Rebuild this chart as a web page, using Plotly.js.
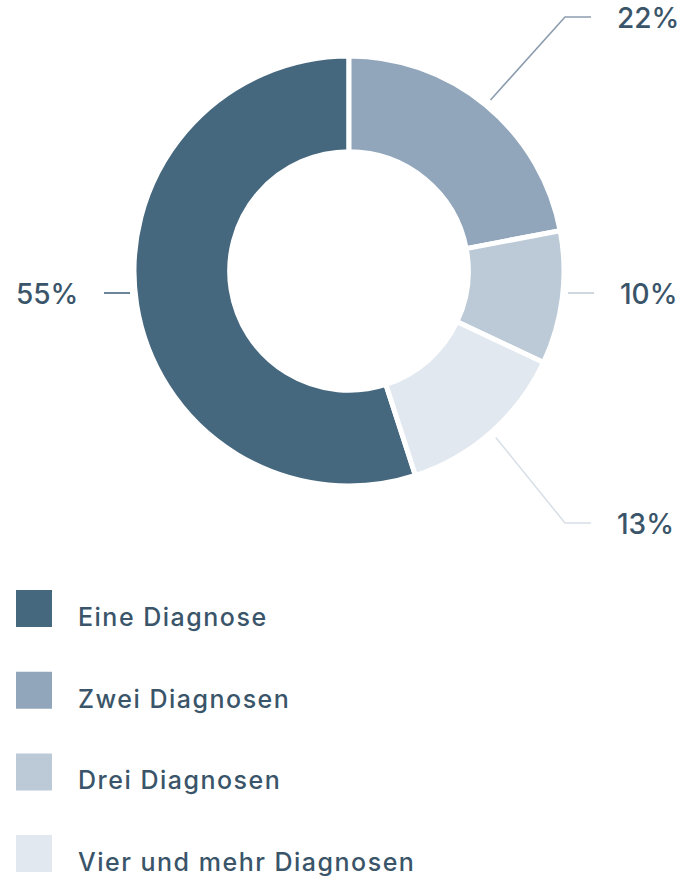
<!DOCTYPE html>
<html>
<head>
<meta charset="utf-8">
<script src="https://cdn.plot.ly/plotly-3.0.1.min.js"></script>
<style>html,body{margin:0;padding:0;background:#fff;}#chart{width:679px;height:876px;}
text.annotation-text[style*="font-size: 25px"]{letter-spacing:1.5px;}</style>
</head>
<body>
<div id="chart"></div>
<script>
// ---- data ----
const categories = ['Eine Diagnose', 'Zwei Diagnosen', 'Drei Diagnosen', 'Vier und mehr Diagnosen'];
const values = [55, 22, 10, 13];
const percentLabels = ['55%', '22%', '10%', '13%'];

// ---- style ----
const sliceColors = ['#46687f', '#91a6bb', '#bccad7', '#e2e8f0'];
const leaderColors = ['#46687f', '#8d9dae', '#c3ced9', '#d9e0e8'];
const textColor = '#3a5569';
const fontFamily = 'Inter, Lato, "Open Sans", sans-serif';

const W = 679, H = 876;
const cx = 349, cy = 271, R = 215;
const px = x => x / W;
const py = y => 1 - y / H;

const total = values.reduce((a, b) => a + b, 0);
const rotation = 360 * (total - values[0]) / total;

const shapes = [];
const annotations = [];

// leader lines + percentage labels
let cum = 0;
values.forEach((v, i) => {
  const mid = (rotation + (cum + v / 2) / total * 360) * Math.PI / 180;
  cum += v;
  const s = Math.sin(mid), c = Math.cos(mid);
  const side = s >= 0 ? 1 : -1;
  let pts;
  if (Math.abs(c) < 0.35) {
    const rowY = cy + 22;
    const x0 = cx + side * (R + 4);
    pts = [[x0, rowY], [x0 + side * 26, rowY]];
  } else {
    const x0 = cx + (R + 7) * s, y0 = cy - (R + 7) * c;
    const rowY = c > 0 ? 17 : 523;
    const ex = cx + side * 216;
    pts = [[x0, y0], [ex, rowY], [ex + side * 26, rowY]];
  }
  const path = 'M ' + pts.map(p => px(p[0]) + ',' + py(p[1])).join(' L ');
  shapes.push({type: 'path', xref: 'paper', yref: 'paper', path: path,
    line: {color: leaderColors[i], width: 1.6}});
  const last = pts[pts.length - 1];
  annotations.push({
    xref: 'paper', yref: 'paper',
    x: px(last[0] + side * 24), y: py(last[1] + 1),
    xanchor: side > 0 ? 'left' : 'right', yanchor: 'middle',
    text: percentLabels[i], showarrow: false,
    font: {family: fontFamily, size: 28, weight: 500, color: textColor}
  });
});

// custom legend
categories.forEach((cat, i) => {
  const top = 590 + i * 81.7;
  shapes.push({type: 'rect', xref: 'paper', yref: 'paper',
    x0: px(16), x1: px(52), y0: py(top), y1: py(top + 37),
    fillcolor: sliceColors[i], line: {width: 0}});
  annotations.push({
    xref: 'paper', yref: 'paper', x: px(76), y: py(top + 27),
    xanchor: 'left', yanchor: 'middle', text: cat, showarrow: false,
    font: {family: fontFamily, size: 25, weight: 500, color: textColor}
  });
});

const trace = {
  type: 'pie',
  labels: categories,
  values: values,
  sort: false,
  direction: 'clockwise',
  rotation: rotation,
  hole: 0.555,
  textinfo: 'none',
  hoverinfo: 'label+percent',
  marker: {colors: sliceColors, line: {color: '#ffffff', width: 5}},
  domain: {x: [px(cx - R), px(cx + R)], y: [py(cy + R), py(cy - R)]},
  showlegend: false
};

const layout = {
  width: W, height: H,
  margin: {l: 0, r: 0, t: 0, b: 0},
  paper_bgcolor: '#ffffff',
  showlegend: false,
  shapes: shapes,
  annotations: annotations,
  font: {family: fontFamily, color: textColor}
};

Plotly.newPlot('chart', [trace], layout, {displayModeBar: false, staticPlot: true});
</script>
</body>
</html>
